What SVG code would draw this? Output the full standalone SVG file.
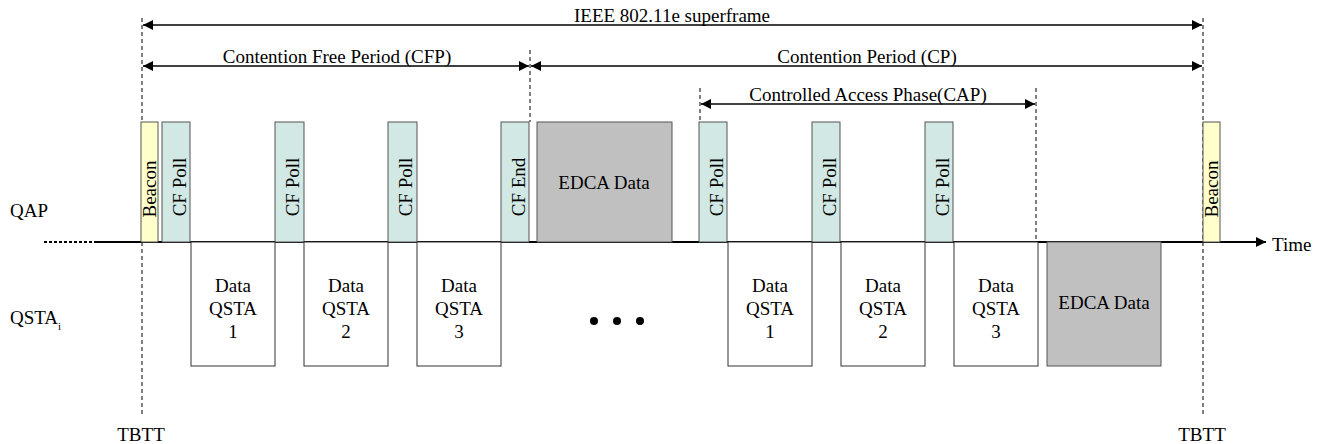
<svg xmlns="http://www.w3.org/2000/svg" width="1321" height="444" viewBox="0 0 1321 444">
<style>
text{font-family:"Liberation Serif","Times New Roman",serif;font-size:19px;fill:#000}
.c{text-anchor:middle}
.poll{fill:#d2e8e4;stroke:#555;stroke-width:1}
.bcn{fill:#ffffcc;stroke:#555;stroke-width:1}
.edca{fill:#c0c0c0;stroke:#555;stroke-width:1}
.dat{fill:#fff;stroke:#333;stroke-width:1}
.dash{stroke:#000;stroke-width:1;stroke-dasharray:4,3;fill:none}
.arr{stroke:#000;stroke-width:1.5;fill:none;marker-start:url(#ah);marker-end:url(#ah)}
</style>
<defs>
<marker id="ah" viewBox="0 0 10 10" refX="10" refY="5" markerWidth="10" markerHeight="10" markerUnits="userSpaceOnUse" orient="auto-start-reverse"><path d="M0,0 L10,5 L0,10 z" fill="#000"/></marker>
<marker id="ta" viewBox="0 0 10 10" refX="10" refY="5" markerWidth="10" markerHeight="10" markerUnits="userSpaceOnUse" orient="auto"><path d="M0,0 L10,5 L0,10 z" fill="#000"/></marker>
</defs>
<rect width="1321" height="444" fill="#fff"/>
<g id="labels">
<text x="10" y="217">QAP</text>
<text x="10" y="324">QSTA<tspan font-size="11" dy="6">i</tspan></text>
<text x="141" y="441" class="c">TBTT</text>
<text x="1202" y="441" class="c">TBTT</text>
<text x="1272" y="251">Time</text>
</g>
<g id="connectors">
<line class="dash" x1="142" y1="18" x2="142" y2="416"/>
<line class="dash" x1="1203" y1="18" x2="1203" y2="416"/>
<line class="dash" x1="530" y1="50" x2="530" y2="122"/>
<line class="dash" x1="700" y1="88" x2="700" y2="122"/>
<line class="dash" x1="1036" y1="88" x2="1036" y2="248"/>
<line class="arr" x1="143" y1="25" x2="1202" y2="25"/>
<line class="arr" x1="143" y1="66" x2="529" y2="66"/>
<line class="arr" x1="531" y1="66" x2="1202" y2="66"/>
<line class="arr" x1="701" y1="104" x2="1035" y2="104"/>
<line x1="44" y1="242" x2="95" y2="242" stroke="#000" stroke-width="2" stroke-dasharray="3,2"/>
<line x1="95" y1="242" x2="1266" y2="242" stroke="#000" stroke-width="2" marker-end="url(#ta)"/>
<text x="672" y="22" class="c">IEEE 802.11e superframe</text>
<text x="337" y="63" class="c">Contention Free Period (CFP)</text>
<text x="867" y="63" class="c">Contention Period (CP)</text>
<text x="868" y="101" class="c">Controlled Access Phase(CAP)</text>
</g>
<g id="beacon1"><rect class="bcn" x="141" y="122" width="17" height="120"/><text class="c" transform="translate(156,189) rotate(-90)">Beacon</text></g>
<g id="poll1"><rect class="poll" x="162" y="122" width="28" height="120"/><text class="c" transform="translate(186,187) rotate(-90)">CF Poll</text></g>
<g id="poll2"><rect class="poll" x="275" y="122" width="29" height="120"/><text class="c" transform="translate(299,187) rotate(-90)">CF Poll</text></g>
<g id="poll3"><rect class="poll" x="388" y="122" width="29" height="120"/><text class="c" transform="translate(412,187) rotate(-90)">CF Poll</text></g>
<g id="cfend"><rect class="poll" x="501" y="122" width="28" height="120"/><text class="c" transform="translate(525,187) rotate(-90)">CF End</text></g>
<g id="edca1"><rect class="edca" x="537" y="122" width="135" height="120"/><text class="c" x="604" y="189">EDCA Data</text></g>
<g id="poll4"><rect class="poll" x="699" y="122" width="28" height="120"/><text class="c" transform="translate(723,187) rotate(-90)">CF Poll</text></g>
<g id="poll5"><rect class="poll" x="812" y="122" width="28" height="120"/><text class="c" transform="translate(836,187) rotate(-90)">CF Poll</text></g>
<g id="poll6"><rect class="poll" x="925" y="122" width="28" height="120"/><text class="c" transform="translate(949,187) rotate(-90)">CF Poll</text></g>
<g id="beacon2"><rect class="bcn" x="1203" y="122" width="17" height="120"/><text class="c" transform="translate(1218,189) rotate(-90)">Beacon</text></g>
<g id="data1"><rect class="dat" x="191" y="242" width="84" height="124"/><text class="c" x="233" y="292">Data</text><text class="c" x="233" y="315">QSTA</text><text class="c" x="233" y="338">1</text></g>
<g id="data2"><rect class="dat" x="304" y="242" width="84" height="124"/><text class="c" x="346" y="292">Data</text><text class="c" x="346" y="315">QSTA</text><text class="c" x="346" y="338">2</text></g>
<g id="data3"><rect class="dat" x="417" y="242" width="84" height="124"/><text class="c" x="459" y="292">Data</text><text class="c" x="459" y="315">QSTA</text><text class="c" x="459" y="338">3</text></g>
<g id="dots"><circle cx="594" cy="321" r="4"/><circle cx="617" cy="321" r="4"/><circle cx="640" cy="321" r="4"/></g>
<g id="data4"><rect class="dat" x="728" y="242" width="84" height="124"/><text class="c" x="770" y="292">Data</text><text class="c" x="770" y="315">QSTA</text><text class="c" x="770" y="338">1</text></g>
<g id="data5"><rect class="dat" x="841" y="242" width="84" height="124"/><text class="c" x="883" y="292">Data</text><text class="c" x="883" y="315">QSTA</text><text class="c" x="883" y="338">2</text></g>
<g id="data6"><rect class="dat" x="954" y="242" width="84" height="124"/><text class="c" x="996" y="292">Data</text><text class="c" x="996" y="315">QSTA</text><text class="c" x="996" y="338">3</text></g>
<g id="edca2"><rect class="edca" x="1047" y="242" width="114" height="124"/><text class="c" x="1104" y="309">EDCA Data</text></g>
</svg>
